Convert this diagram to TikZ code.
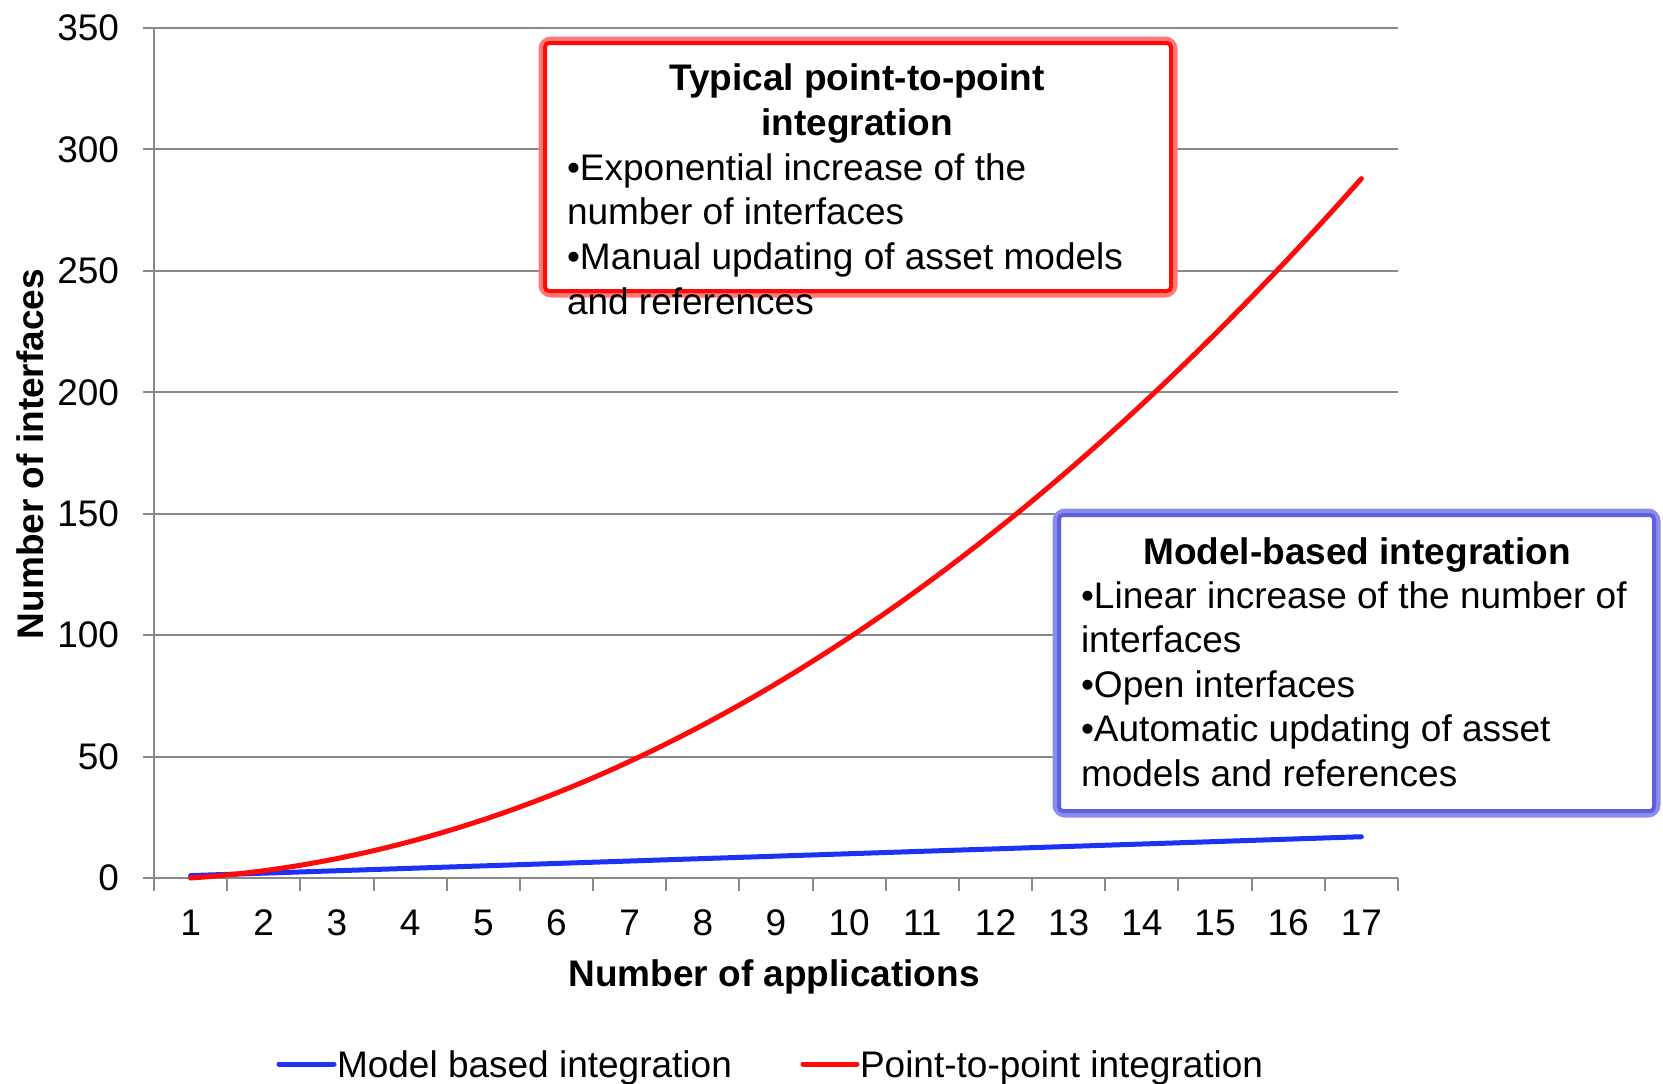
\documentclass[tikz,border=0pt]{standalone}
\usepackage{fontspec}
\setmainfont{Liberation Sans}
\definecolor{gridgray}{RGB}{137,137,137}
\definecolor{curvered}{RGB}{255,10,10}
\definecolor{curveblue}{RGB}{30,50,245}
\definecolor{boxblue}{RGB}{95,95,225}
\definecolor{boxblueglow}{RGB}{140,140,235}
\definecolor{boxredglow}{RGB}{255,120,120}
\begin{document}
\begin{tikzpicture}[x=0.5pt,y=-0.5pt,
  every node/.style={inner sep=0pt,outer sep=0pt},
  lab/.style={font=\fontsize{18.5}{22}\selectfont},
  boldlab/.style={font=\fontsize{18.5}{22}\selectfont\bfseries},
  gridline/.style={draw=gridgray,line width=1pt},
  redcurve/.style={draw=curvered,line width=2.5pt,line cap=round},
  bluecurve/.style={draw=curveblue,line width=2.5pt,line cap=round},
  redbox/.style={draw=curvered,line width=2pt,fill=white,rounded corners=2pt},
  redglow/.style={draw=boxredglow,line width=4.5pt,rounded corners=4pt},
  bluebox/.style={draw=boxblue,line width=2pt,fill=white,rounded corners=2pt},
  blueglow/.style={draw=boxblueglow,line width=4.5pt,rounded corners=4pt}]
\useasboundingbox (0,0) rectangle (1663,1083);
\fill[white] (0,0) rectangle (1663,1083);

% grid and axes
\foreach \v in {50,100,...,350}
  \draw[gridline] (143,{878-2.4286*\v}) -- (1398,{878-2.4286*\v});
\draw[gridline] (143,878) -- (1398,878);
\draw[gridline] (154,{878-2.4286*350}) -- (154,878);
\foreach \k in {0,...,17}
  \draw[gridline] ({154+73.176*\k},878) -- ({154+73.176*\k},891);

% tick labels
\foreach \v in {0,50,...,350}
  \node[lab,anchor=east] (yl\v) at (119,{878-2.4286*\v}) {\v};
\foreach \n in {1,...,17}
  \node[lab] (xl\n) at ({154+73.176*(\n-0.5)},923) {\n};

% axis titles
\node[boldlab,anchor=base] (xtitle) at (774,986) {Number of applications};
\node[boldlab,anchor=base,rotate=90] (ytitle) at (43,454) {Number of interfaces};

% curves
\draw[bluecurve] plot[domain=1:17,samples=2] ({154+73.176*(\x-0.5)},{878-2.4286*\x});
\draw[redcurve] plot[domain=1:17,samples=80] ({154+73.176*(\x-0.5)},{878-2.4286*(\x*\x-1)});

% red annotation box
\draw[redglow] (543,41) rectangle (1173,293);
\draw[redbox] (545,43) rectangle (1171,291);
\node[boldlab,anchor=base] (rt1) at (857,90) {Typical point-to-point};
\node[boldlab,anchor=base] (rt2) at (857,135) {integration};
\node[lab,anchor=base west] (rl1) at (567,180) {\textbullet Exponential increase of the};
\node[lab,anchor=base west] (rl2) at (567,224) {number of interfaces};
\node[lab,anchor=base west] (rl3) at (567,269) {\textbullet Manual updating of asset models};
\node[lab,anchor=base west] (rl4) at (567,314) {and references};

% blue annotation box
\draw[blueglow] (1057,513) rectangle (1656,813);
\draw[bluebox] (1059,515) rectangle (1654,811);
\node[boldlab,anchor=base] (bt1) at (1357,564) {Model-based integration};
\node[lab,anchor=base west] (bl1) at (1081,608) {\textbullet Linear increase of the number of};
\node[lab,anchor=base west] (bl2) at (1081,652.5) {interfaces};
\node[lab,anchor=base west] (bl3) at (1081,697) {\textbullet Open interfaces};
\node[lab,anchor=base west] (bl4) at (1081,741.5) {\textbullet Automatic updating of asset};
\node[lab,anchor=base west] (bl5) at (1081,786) {models and references};

% legend
\coordinate (lb1) at (279,1064);
\coordinate (lb2) at (334,1064);
\draw[bluecurve] (lb1) -- (lb2);
\node[lab,anchor=base west] (lgb) at (337,1077) {Model based integration};
\coordinate (lr1) at (803,1064);
\coordinate (lr2) at (857,1064);
\draw[redcurve] (lr1) -- (lr2);
\node[lab,anchor=base west] (lgr) at (860,1077) {Point-to-point integration};
\end{tikzpicture}
\end{document}
